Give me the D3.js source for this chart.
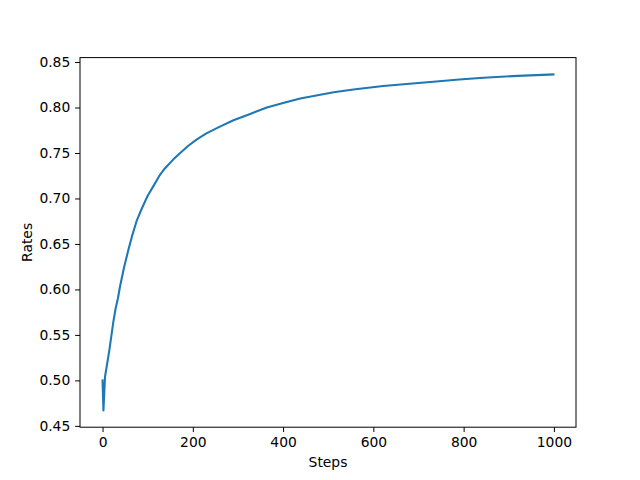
<!DOCTYPE html>
<html><head><meta charset="utf-8">
<script src="https://cdn.jsdelivr.net/npm/d3@7"></script>
<style>body{margin:0;background:#fff}svg{display:block}text{font-family:"DejaVu Sans",sans-serif}</style>
</head><body>
<script>
const steps = [0, 2, 5.5, 15, 24, 29, 34, 39, 48, 57, 65, 76, 87, 100, 112, 126, 138, 157, 172, 190, 209, 230, 260, 290, 327, 364, 400, 438, 512, 560, 622, 680, 733, 790, 844, 920, 999];
const rates = [0.500, 0.467, 0.504, 0.533, 0.5646, 0.579, 0.590, 0.604, 0.625, 0.643, 0.658, 0.676, 0.689, 0.703, 0.713, 0.725, 0.733, 0.743, 0.750, 0.758, 0.765, 0.7715, 0.779, 0.786, 0.7929, 0.800, 0.805, 0.810, 0.8167, 0.820, 0.8236, 0.8262, 0.8284, 0.8308, 0.8328, 0.8348, 0.8364];
const xTicks = [0, 200, 400, 600, 800, 1000];
const yTicks = [0.45, 0.50, 0.55, 0.60, 0.65, 0.70, 0.75, 0.80, 0.85];

const W = 640, H = 480;
const L = 80, R = 576, T = 57.6, B = 427.2;
const svg = d3.select("body").append("svg").attr("width", W).attr("height", H);

const xmin = d3.min(steps), xmax = d3.max(steps);
const xpad = (xmax - xmin) * 0.05;
const ymin = d3.min(rates), ymax = d3.max(rates);
const ypad = (ymax - ymin) * 0.05;
const x = d3.scaleLinear().domain([xmin - xpad, xmax + xpad]).range([L, R]);
const y = d3.scaleLinear().domain([ymin - ypad, ymax + ypad]).range([B, T]);

const fs = 13.89;
const xAxis = d3.axisBottom(x).tickValues(xTicks).tickFormat(d3.format("d")).tickSize(4.86).tickPadding(4.86);
const yAxis = d3.axisLeft(y).tickValues(yTicks).tickFormat(d3.format(".2f")).tickSize(4.86).tickPadding(4.86);

const gx = svg.append("g").attr("transform", `translate(0,${B})`).call(xAxis);
const gy = svg.append("g").attr("transform", `translate(${L},0)`).call(yAxis);
[gx, gy].forEach(g => {
  g.select(".domain").remove();
  g.selectAll("line").attr("stroke", "#000").attr("stroke-width", 1);
  g.selectAll("text").attr("font-size", fs).attr("fill", "#000").attr("font-family", "DejaVu Sans");
});

const data = steps.map((s, i) => [s, rates[i]]);
svg.append("path").datum(data)
  .attr("fill", "none").attr("stroke", "#1f77b4").attr("stroke-width", 2.08)
  .attr("stroke-linejoin", "round").attr("stroke-linecap", "square")
  .attr("d", d3.line().x(d => x(d[0])).y(d => y(d[1])));

svg.append("rect").attr("x", L).attr("y", T).attr("width", R - L).attr("height", B - T)
  .attr("fill", "none").attr("stroke", "#000").attr("stroke-width", 1);

svg.append("text").attr("x", (L + R) / 2).attr("y", 467).attr("text-anchor", "middle")
  .attr("font-size", fs).text("Steps");
svg.append("text").attr("transform", `translate(32,${(T + B) / 2}) rotate(-90)`).attr("text-anchor", "middle")
  .attr("font-size", fs).text("Rates");
</script>
</body></html>
